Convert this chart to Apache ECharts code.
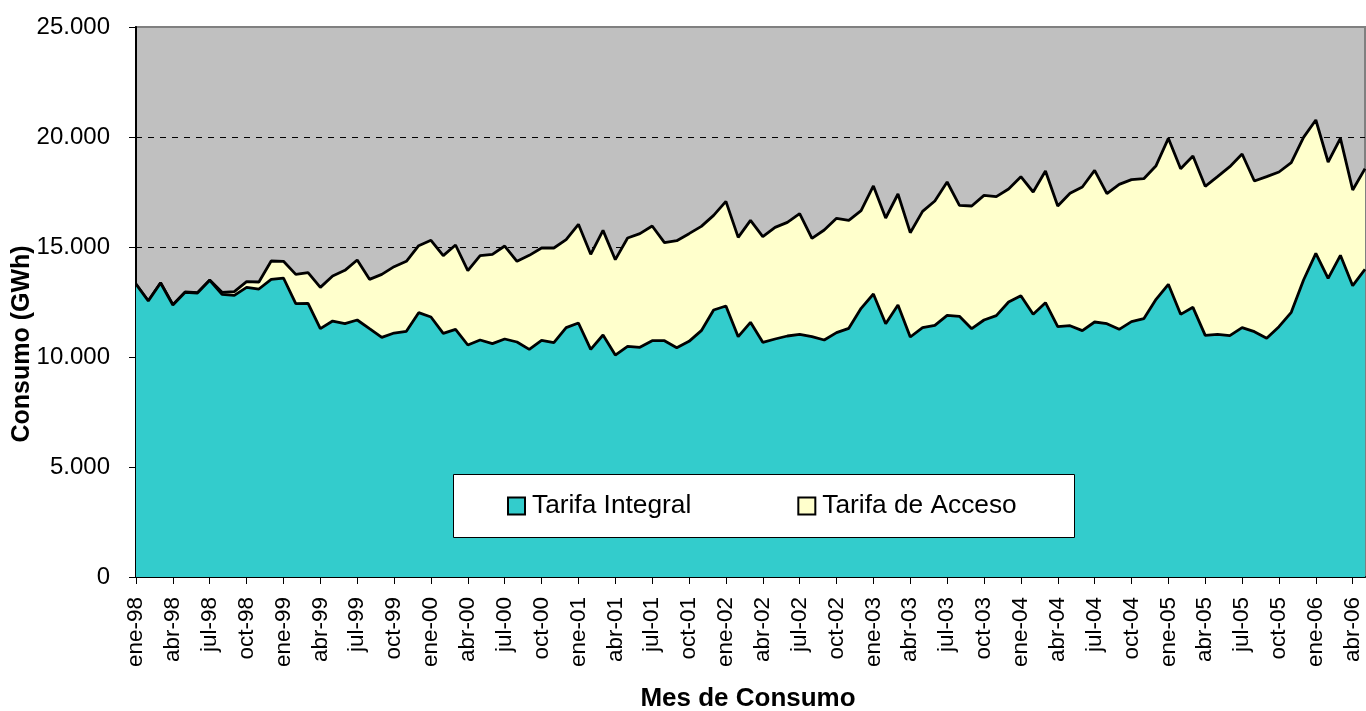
<!DOCTYPE html>
<html>
<head>
<meta charset="utf-8">
<script src="https://cdn.jsdelivr.net/npm/echarts@6/dist/echarts.min.js"></script>
<style>
html,body{margin:0;padding:0;background:#fff;}
#chart{width:1366px;height:711px;}
</style>
</head>
<body>
<div id="chart"></div>
<script>
var months = [
'ene-98','feb-98','mar-98','abr-98','may-98','jun-98','jul-98','ago-98','sep-98','oct-98','nov-98','dic-98',
'ene-99','feb-99','mar-99','abr-99','may-99','jun-99','jul-99','ago-99','sep-99','oct-99','nov-99','dic-99',
'ene-00','feb-00','mar-00','abr-00','may-00','jun-00','jul-00','ago-00','sep-00','oct-00','nov-00','dic-00',
'ene-01','feb-01','mar-01','abr-01','may-01','jun-01','jul-01','ago-01','sep-01','oct-01','nov-01','dic-01',
'ene-02','feb-02','mar-02','abr-02','may-02','jun-02','jul-02','ago-02','sep-02','oct-02','nov-02','dic-02',
'ene-03','feb-03','mar-03','abr-03','may-03','jun-03','jul-03','ago-03','sep-03','oct-03','nov-03','dic-03',
'ene-04','feb-04','mar-04','abr-04','may-04','jun-04','jul-04','ago-04','sep-04','oct-04','nov-04','dic-04',
'ene-05','feb-05','mar-05','abr-05','may-05','jun-05','jul-05','ago-05','sep-05','oct-05','nov-05','dic-05',
'ene-06','feb-06','mar-06','abr-06','may-06'
];

var tarifaIntegral = [
13305,12545,13364,12364,12940,12910,13485,12848,12803,13166,13090,13530,
13590,12424,12440,11287,11636,11515,11682,11287,10894,11090,11167,12015,
11818,11076,11258,10545,10773,10606,10818,10682,10348,10758,10651,11333,
11545,10348,11000,10090,10485,10439,10742,10742,10424,10712,11197,12136,
12318,10924,11576,10667,10818,10955,11030,10924,10773,11106,11303,12212,
12864,11515,12364,10909,11333,11439,11894,11848,11287,11682,11879,12500,
12788,11939,12470,11379,11424,11197,11591,11515,11258,11606,11742,12621,
13303,11939,12258,10985,11030,10970,11333,11151,10848,11379,12030,13500,
14712,13576,14621,13242,13985
];

var tarifaAcceso = [
10,10,10,10,15,15,20,92,167,258,320,834,
760,1333,1393,1879,2046,2424,2727,2243,2863,3016,3183,3045,
3485,3530,3832,3379,3833,4061,4227,3666,4273,4196,4303,4000,
4485,4319,4757,4334,4924,5167,5212,4455,4864,4894,4742,4303,
4757,4515,4636,4803,5076,5166,5485,4470,5000,5197,4909,4439,
4909,4803,5045,4742,5288,5652,6061,5046,5577,5666,5409,5136,
5409,5561,5985,5485,6015,6530,6894,5909,6590,6455,6364,6076,
6636,6621,6878,6772,7167,7682,7894,6849,7349,7030,6803,6485,
6061,5288,5318,4349,4575
];

var yTicks = [0, 5000, 10000, 15000, 20000, 25000];

var FONT = "'Liberation Sans', Arial, sans-serif";
function fmt(v){ return String(v).replace(/\B(?=(\d{3})+(?!\d))/g, '.'); }

var chart = echarts.init(document.getElementById('chart'), null, {renderer:'canvas'});
chart.setOption({
  animation: false,
  backgroundColor: '#ffffff',
  textStyle: {fontFamily: FONT, color: '#000'},
  grid: {
    left: 136, right: 1, top: 27, bottom: 134,
    show: true, backgroundColor: '#C0C0C0', borderColor: '#808080', borderWidth: 2
  },
  xAxis: {
    type: 'category',
    data: months,
    boundaryGap: false,
    axisLine: {show: true, onZero: false, lineStyle: {color: '#000', width: 2}},
    axisTick: {show: true, interval: 2, length: 7, lineStyle: {color: '#000', width: 1}},
    axisLabel: {
      interval: 2, rotate: 90, margin: 20, fontSize: 22.5, color: '#000', fontFamily: FONT,
      hideOverlap: false
    },
    splitLine: {show: false}
  },
  yAxis: {
    type: 'value',
    min: yTicks[0], max: yTicks[yTicks.length-1], interval: 5000,
    axisLine: {show: true, lineStyle: {color: '#000', width: 2}},
    axisTick: {show: true, length: 7, lineStyle: {color: '#000', width: 1}},
    axisLabel: {margin: 26, fontSize: 24, color: '#000', fontFamily: FONT, formatter: fmt},
    splitLine: {show: true, showMinLine: false, showMaxLine: false,
      lineStyle: {color: '#000', width: 1, type: [6, 6]}}
  },
  legend: {
    left: 507, top: 493, padding: 0,
    itemWidth: 17, itemHeight: 17, itemGap: 106,
    icon: 'rect',
    textStyle: {fontSize: 26.3, color: '#000', fontFamily: FONT, padding: [0, 0, 0, 2]},
    data: [
      {name: 'Tarifa Integral', itemStyle: {color: '#33CCCC', borderColor: '#000', borderWidth: 2}},
      {name: 'Tarifa de Acceso', itemStyle: {color: '#FFFFCC', borderColor: '#000', borderWidth: 2}}
    ],
    z: 10
  },
  graphic: [
    {type: 'rect', z: 5, shape: {x: 453.5, y: 474.5, width: 621, height: 63},
     style: {fill: '#ffffff', stroke: '#000', lineWidth: 1}},
    {type: 'text', z: 5, x: 22, y: 344, rotation: Math.PI/2,
     style: {text: 'Consumo (GWh)', font: "bold 25px " + FONT, fill: '#000', align: 'center', verticalAlign: 'middle'}},
    {type: 'text', z: 5, x: 748, y: 699,
     style: {text: 'Mes de Consumo', font: "bold 26px " + FONT, fill: '#000', align: 'center', verticalAlign: 'middle'}}
  ],
  series: [
    {
      name: 'Tarifa Integral', type: 'line', stack: 'total', data: tarifaIntegral,
      showSymbol: false, symbol: 'none', z: 3,
      itemStyle: {color: '#33CCCC'},
      lineStyle: {color: '#000', width: 2.8},
      areaStyle: {color: '#33CCCC', opacity: 1}
    },
    {
      name: 'Tarifa de Acceso', type: 'line', stack: 'total', data: tarifaAcceso,
      showSymbol: false, symbol: 'none', z: 2,
      itemStyle: {color: '#FFFFCC'},
      lineStyle: {color: '#000', width: 2.8},
      areaStyle: {color: '#FFFFCC', opacity: 1}
    }
  ]
});
</script>
</body>
</html>
